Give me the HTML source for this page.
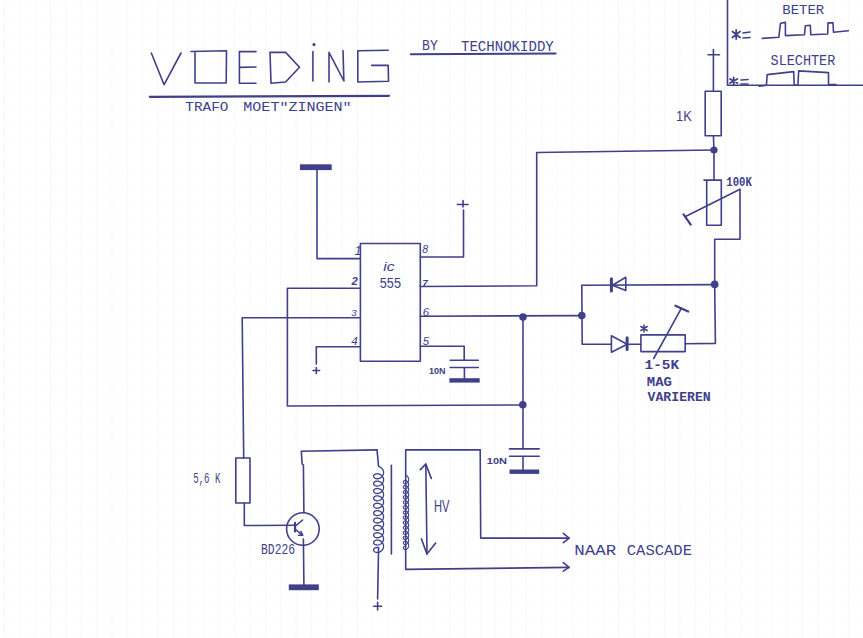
<!DOCTYPE html>
<html><head><meta charset="utf-8"><title>Voeding</title>
<style>
html,body{margin:0;padding:0;background:#fff;width:863px;height:638px;overflow:hidden}
svg{display:block}
text{font-family:"Liberation Sans",sans-serif;fill:#40408a}
</style></head><body>
<svg width="863" height="638" viewBox="0 0 863 638">
<defs>
<pattern id="grid" width="15.35" height="15.35" patternUnits="userSpaceOnUse" x="4" y="3">
<path d="M0.5 0V15.35" stroke="#f7f7f8" stroke-width="1" fill="none"/><path d="M0 0.5H15.35" stroke="#fcfcfc" stroke-width="1" fill="none"/>
</pattern>
</defs>
<rect width="863" height="638" fill="#fff"/>
<rect width="863" height="638" fill="url(#grid)"/>

<g fill="none" stroke="#40408a" stroke-width="1.6" stroke-linecap="round" stroke-linejoin="round">
<!-- TITLE VOEDING -->
<path d="M151.3 53L164.1 84.7L181 53"/>
<path d="M191 51.5L226.5 50.8L226.2 82.9L195 83L195 51.5"/>
<path d="M256 51.6L239.4 51.6L239.4 83.2L256 83.2M239.4 67.4L256 67"/>
<path d="M270 52.4L285.6 52.4L299.5 67.2L285.6 82L271 83.3Z"/>
<path d="M312.9 51.5L312.9 81"/>
<path d="M329 82L329 52.4L343.9 81L343 50.6"/>
<path d="M388.2 50.2L357.8 50.8L357.8 82L388.5 81.2L388.2 65.4L371.7 65.4"/>
<path d="M149.8 96.8L389 95.8" stroke-width="2.2"/>
<path d="M410.8 54.2L555.6 53.6" stroke-width="2"/>

<!-- top right box -->
<path d="M727.5 0L727.5 85.3L863 85.3"/>
<path d="M762.3 38.4L778.8 37.3L780.5 23.2L785.4 22.4L785.4 35.6L804.5 34.8L805.3 25.7L810.3 25.2L810.8 34.8L827.7 34L828 22.9L833 22.9L833.5 32.3L848.4 30.7"/>
<path d="M759 86.2L766.4 85.3L767.2 74.6L793.7 71.6L794.2 85.3L797.9 85.3L798.7 70.9L828.5 72.6L828.5 84.5L836 84.5"/>
<path d="M743 33L750 32M743 38L750 37.5"/>
<path d="M741 80L748 79.5M741 84L748 84"/>

<path d="M736.2 30L736.2 39M732.4 31.5L740 37.5M740 31.5L732.4 37.5" stroke-width="1.8"/>
<path d="M733.7 77.5L733.7 84.5M730 79L737.4 83M737.4 79L730 83" stroke-width="1.8"/>
<!-- 1K resistor -->
<path d="M708 54.7L719.5 54.7M713.4 49.5L713.4 91.2"/>
<rect x="705.2" y="91.2" width="16" height="44.5"/>
<path d="M713.4 135.7L714 150"/>
<!-- wire from dot left to 536.7 then down to pin 7 -->
<path d="M714 150L536.7 152.5L536.7 285.8L420.3 286.5"/>
<!-- 100K pot -->
<path d="M714 150L714 180"/>
<path d="M704 180.1L721.3 180.1L721.3 225.2L706.7 225.2L706.7 180.1"/>
<path d="M685.5 216.5L740 189.2L740 239.3L714.7 239.3L714.7 284.6"/>
<path d="M683.5 214.3L690.7 224.7" stroke-width="2.2"/>

<!-- diode network -->
<path d="M714.7 284.6L581.8 285.2L582.2 344.3L611.4 344.3"/>
<path d="M612.4 285.2L625.8 277.3L625.8 290.5Z"/>
<path d="M611.4 278.7L611.4 291.1" stroke-width="3"/>
<path d="M611.4 335.8L627.1 344.3L611.4 352.2Z"/>
<path d="M627.1 337.8L627.1 349.6" stroke-width="3"/>
<path d="M627.1 344.3L640.9 344.3"/>
<rect x="640.9" y="334.9" width="44.3" height="16.7"/>
<path d="M685.2 343.7L715.4 343.4L714.7 284.6"/>
<path d="M653.7 358.5L681.3 308.3"/>
<path d="M675.4 305.7L688.2 311.6" stroke-width="2.2"/>

<path d="M644 325L644 332M640.9 326.5L647.2 330.5M647.2 326.5L640.9 330.5" stroke-width="1.5"/>
<!-- IC -->
<rect x="360.4" y="243.5" width="59.9" height="117.8"/>
<!-- pin1 ground -->
<path d="M317 170L317 258.6L360.4 258.6"/>
<!-- pin8 -->
<path d="M420.3 257L463.5 257L463.5 210M457.4 204.5L468 204.5M463 200.5L463 207"/>
<!-- pin2 -->
<path d="M360.4 288.2L287.4 288.2L287.4 406L522.8 405"/>
<!-- pin3 -->
<path d="M360.4 317.8L242.2 317.8L243.7 458"/>
<!-- pin4 -->
<path d="M360.4 346.8L316.3 346.8L316.3 364M313 370.5L319.6 370.5M316.3 367.5L316.3 373.5"/>
<!-- pin6 -->
<path d="M420.3 316.2L581.8 315.6"/>
<path d="M523 317L523 448.9"/>
<!-- pin5 cap -->
<path d="M420.3 346.2L464.2 346.2L464.2 360.2"/>
<path d="M450.2 360.2L478.3 360.2M450.2 367.5L478.3 367.5M464.4 367.5L464.4 379"/>
<!-- 10N cap 2 -->
<path d="M509.5 448.9L539.2 448.9M509.5 456.2L539.2 456.2M523 456.2L523 469.5"/>

<!-- 5.6K -->
<rect x="235.8" y="458" width="14.2" height="45"/>
<path d="M244.3 503L244.3 525.5L295 525.3"/>
<!-- transistor -->
<circle cx="302.9" cy="529" r="16.3"/>
<path d="M295 522.8L295 531.5" stroke-width="2.2"/>
<path d="M295 526.5L302.6 520M295 529L302.6 535.3"/>
<path d="M298.5 535.2L302.6 535.3L301 531.5"/>
<path d="M303.9 512.7L303.4 465L302.1 463.8L301.3 451.3L377 449.9"/>
<path d="M303.4 539L303.9 585"/>

<!-- transformer -->
<path d="M377 449.9L378.6 466.5"/>
<path d="M378.6 547.6L377.6 599M373.6 606.2L381.6 606.2M377.6 602.2L377.6 610"/>
<path d="M391.4 465.2L391.4 554"/>
<path d="M480.2 449.9L405.7 449.9L405.7 569.4L569 567.4"/>
<path d="M480.2 449.9L480.7 538.1L569.1 538.1"/>
<path d="M563.3 533.3L569.1 538.1L563.3 542.7"/>
<path d="M563.3 562.6L569.1 567.4L563.3 571.2"/>
<!-- HV arrow -->
<path d="M425.8 464.1L427 554"/>
<path d="M420.3 469.6L425.8 464.1L431.3 478.4"/>
<path d="M421.4 538.7L426.9 554L435.7 543"/>
</g>

<!-- coils -->
<g fill="none" stroke="#40408a" stroke-width="1.3" stroke-linejoin="round">
<path d="M378.60 466.50 L379.89 466.95 L381.10 467.68 L382.14 468.65 L382.93 469.83 L383.43 471.15 L383.60 472.54 L383.43 473.94 L382.93 475.26 L382.14 476.43 L381.10 477.41 L379.89 478.14 L378.60 478.59 L377.31 478.75 L376.10 478.64 L375.06 478.28 L374.27 477.72 L373.77 477.01 L373.60 476.23 L373.77 475.45 L374.27 474.74 L375.06 474.18 L376.10 473.82 L377.31 473.71 L378.60 473.87 L379.89 474.32 L381.10 475.05 L382.14 476.02 L382.93 477.20 L383.43 478.52 L383.60 479.92 L383.43 481.31 L382.93 482.63 L382.14 483.81 L381.10 484.78 L379.89 485.51 L378.60 485.96 L377.31 486.12 L376.10 486.01 L375.06 485.65 L374.27 485.09 L373.77 484.38 L373.60 483.60 L373.77 482.82 L374.27 482.12 L375.06 481.55 L376.10 481.19 L377.31 481.08 L378.60 481.25 L379.89 481.70 L381.10 482.42 L382.14 483.40 L382.93 484.57 L383.43 485.89 L383.60 487.29 L383.43 488.68 L382.93 490.00 L382.14 491.18 L381.10 492.15 L379.89 492.88 L378.60 493.33 L377.31 493.50 L376.10 493.38 L375.06 493.02 L374.27 492.46 L373.77 491.75 L373.60 490.97 L373.77 490.20 L374.27 489.49 L375.06 488.93 L376.10 488.57 L377.31 488.45 L378.60 488.62 L379.89 489.07 L381.10 489.80 L382.14 490.77 L382.93 491.95 L383.43 493.27 L383.60 494.66 L383.43 496.06 L382.93 497.38 L382.14 498.55 L381.10 499.53 L379.89 500.25 L378.60 500.70 L377.31 500.87 L376.10 500.76 L375.06 500.40 L374.27 499.83 L373.77 499.13 L373.60 498.35 L373.77 497.57 L374.27 496.86 L375.06 496.30 L376.10 495.94 L377.31 495.83 L378.60 495.99 L379.89 496.44 L381.10 497.17 L382.14 498.14 L382.93 499.32 L383.43 500.64 L383.60 502.03 L383.43 503.43 L382.93 504.75 L382.14 505.93 L381.10 506.90 L379.89 507.63 L378.60 508.08 L377.31 508.24 L376.10 508.13 L375.06 507.77 L374.27 507.21 L373.77 506.50 L373.60 505.72 L373.77 504.94 L374.27 504.23 L375.06 503.67 L376.10 503.31 L377.31 503.20 L378.60 503.36 L379.89 503.81 L381.10 504.54 L382.14 505.52 L382.93 506.69 L383.43 508.01 L383.60 509.41 L383.43 510.80 L382.93 512.12 L382.14 513.30 L381.10 514.27 L379.89 515.00 L378.60 515.45 L377.31 515.61 L376.10 515.50 L375.06 515.14 L374.27 514.58 L373.77 513.87 L373.60 513.09 L373.77 512.31 L374.27 511.61 L375.06 511.04 L376.10 510.68 L377.31 510.57 L378.60 510.74 L379.89 511.19 L381.10 511.91 L382.14 512.89 L382.93 514.07 L383.43 515.39 L383.60 516.78 L383.43 518.17 L382.93 519.49 L382.14 520.67 L381.10 521.65 L379.89 522.37 L378.60 522.82 L377.31 522.99 L376.10 522.87 L375.06 522.51 L374.27 521.95 L373.77 521.25 L373.60 520.47 L373.77 519.69 L374.27 518.98 L375.06 518.42 L376.10 518.06 L377.31 517.95 L378.60 518.11 L379.89 518.56 L381.10 519.29 L382.14 520.26 L382.93 521.44 L383.43 522.76 L383.60 524.15 L383.43 525.55 L382.93 526.87 L382.14 528.04 L381.10 529.02 L379.89 529.75 L378.60 530.20 L377.31 530.36 L376.10 530.25 L375.06 529.89 L374.27 529.32 L373.77 528.62 L373.60 527.84 L373.77 527.06 L374.27 526.35 L375.06 525.79 L376.10 525.43 L377.31 525.32 L378.60 525.48 L379.89 525.93 L381.10 526.66 L382.14 527.63 L382.93 528.81 L383.43 530.13 L383.60 531.52 L383.43 532.92 L382.93 534.24 L382.14 535.42 L381.10 536.39 L379.89 537.12 L378.60 537.57 L377.31 537.73 L376.10 537.62 L375.06 537.26 L374.27 536.70 L373.77 535.99 L373.60 535.21 L373.77 534.43 L374.27 533.73 L375.06 533.16 L376.10 532.80 L377.31 532.69 L378.60 532.85 L379.89 533.30 L381.10 534.03 L382.14 535.01 L382.93 536.18 L383.43 537.50 L383.60 538.90 L383.43 540.29 L382.93 541.61 L382.14 542.79 L381.10 543.76 L379.89 544.49 L378.60 544.94 L377.31 545.10 L376.10 544.99 L375.06 544.63 L374.27 544.07 L373.77 543.36 L373.60 542.58 L373.77 541.80 L374.27 541.10 L375.06 540.54 L376.10 540.18 L377.31 540.06 L378.60 540.23 L379.89 540.68 L381.10 541.40 L382.14 542.38 L382.93 543.56 L383.43 544.88 L383.60 546.27 L383.43 547.66 L382.93 548.98 L382.14 550.16 L381.10 551.14 L379.89 551.86 L378.60 552.31 L377.31 552.48 L376.10 552.37 L375.06 552.01 L374.27 551.44 L373.77 550.74 L373.60 549.96 L373.77 549.18 L374.27 548.47 L375.06 547.91 L376.10 547.55 L377.31 547.44 L378.60 547.60"/>
</g>
<g fill="none" stroke="#40408a" stroke-width="1.1" stroke-linejoin="round">
<path d="M406.00 475.50 L406.70 475.81 L407.35 476.30 L407.91 476.95 L408.34 477.74 L408.61 478.63 L408.70 479.57 L408.61 480.50 L408.34 481.39 L407.91 482.18 L407.35 482.83 L406.70 483.33 L406.00 483.63 L405.30 483.75 L404.65 483.68 L404.09 483.45 L403.66 483.08 L403.39 482.61 L403.30 482.10 L403.39 481.58 L403.66 481.12 L404.09 480.75 L404.65 480.52 L405.30 480.45 L406.00 480.56 L406.70 480.87 L407.35 481.36 L407.91 482.02 L408.34 482.81 L408.61 483.69 L408.70 484.63 L408.61 485.57 L408.34 486.45 L407.91 487.24 L407.35 487.90 L406.70 488.39 L406.00 488.70 L405.30 488.81 L404.65 488.74 L404.09 488.51 L403.66 488.14 L403.39 487.68 L403.30 487.16 L403.39 486.65 L403.66 486.18 L404.09 485.82 L404.65 485.58 L405.30 485.51 L406.00 485.63 L406.70 485.93 L407.35 486.43 L407.91 487.08 L408.34 487.87 L408.61 488.76 L408.70 489.69 L408.61 490.63 L408.34 491.52 L407.91 492.31 L407.35 492.96 L406.70 493.45 L406.00 493.76 L405.30 493.88 L404.65 493.81 L404.09 493.57 L403.66 493.20 L403.39 492.74 L403.30 492.23 L403.39 491.71 L403.66 491.25 L404.09 490.88 L404.65 490.65 L405.30 490.58 L406.00 490.69 L406.70 491.00 L407.35 491.49 L407.91 492.15 L408.34 492.94 L408.61 493.82 L408.70 494.76 L408.61 495.69 L408.34 496.58 L407.91 497.37 L407.35 498.03 L406.70 498.52 L406.00 498.83 L405.30 498.94 L404.65 498.87 L404.09 498.64 L403.66 498.27 L403.39 497.80 L403.30 497.29 L403.39 496.78 L403.66 496.31 L404.09 495.94 L404.65 495.71 L405.30 495.64 L406.00 495.76 L406.70 496.06 L407.35 496.55 L407.91 497.21 L408.34 498.00 L408.61 498.89 L408.70 499.82 L408.61 500.76 L408.34 501.65 L407.91 502.44 L407.35 503.09 L406.70 503.58 L406.00 503.89 L405.30 504.00 L404.65 503.94 L404.09 503.70 L403.66 503.33 L403.39 502.87 L403.30 502.36 L403.39 501.84 L403.66 501.38 L404.09 501.01 L404.65 500.77 L405.30 500.71 L406.00 500.82 L406.70 501.13 L407.35 501.62 L407.91 502.27 L408.34 503.07 L408.61 503.95 L408.70 504.89 L408.61 505.82 L408.34 506.71 L407.91 507.50 L407.35 508.16 L406.70 508.65 L406.00 508.95 L405.30 509.07 L404.65 509.00 L404.09 508.77 L403.66 508.40 L403.39 507.93 L403.30 507.42 L403.39 506.91 L403.66 506.44 L404.09 506.07 L404.65 505.84 L405.30 505.77 L406.00 505.89 L406.70 506.19 L407.35 506.68 L407.91 507.34 L408.34 508.13 L408.61 509.02 L408.70 509.95 L408.61 510.89 L408.34 511.77 L407.91 512.56 L407.35 513.22 L406.70 513.71 L406.00 514.02 L405.30 514.13 L404.65 514.06 L404.09 513.83 L403.66 513.46 L403.39 513.00 L403.30 512.48 L403.39 511.97 L403.66 511.51 L404.09 511.14 L404.65 510.90 L405.30 510.83 L406.00 510.95 L406.70 511.26 L407.35 511.75 L407.91 512.40 L408.34 513.19 L408.61 514.08 L408.70 515.02 L408.61 515.95 L408.34 516.84 L407.91 517.63 L407.35 518.28 L406.70 518.78 L406.00 519.08 L405.30 519.20 L404.65 519.13 L404.09 518.90 L403.66 518.53 L403.39 518.06 L403.30 517.55 L403.39 517.03 L403.66 516.57 L404.09 516.20 L404.65 515.97 L405.30 515.90 L406.00 516.01 L406.70 516.32 L407.35 516.81 L407.91 517.47 L408.34 518.26 L408.61 519.14 L408.70 520.08 L408.61 521.02 L408.34 521.90 L407.91 522.69 L407.35 523.35 L406.70 523.84 L406.00 524.15 L405.30 524.26 L404.65 524.19 L404.09 523.96 L403.66 523.59 L403.39 523.13 L403.30 522.61 L403.39 522.10 L403.66 521.63 L404.09 521.27 L404.65 521.03 L405.30 520.96 L406.00 521.08 L406.70 521.38 L407.35 521.88 L407.91 522.53 L408.34 523.32 L408.61 524.21 L408.70 525.14 L408.61 526.08 L408.34 526.97 L407.91 527.76 L407.35 528.41 L406.70 528.90 L406.00 529.21 L405.30 529.33 L404.65 529.26 L404.09 529.02 L403.66 528.65 L403.39 528.19 L403.30 527.68 L403.39 527.16 L403.66 526.70 L404.09 526.33 L404.65 526.10 L405.30 526.03 L406.00 526.14 L406.70 526.45 L407.35 526.94 L407.91 527.60 L408.34 528.39 L408.61 529.27 L408.70 530.21 L408.61 531.14 L408.34 532.03 L407.91 532.82 L407.35 533.48 L406.70 533.97 L406.00 534.27 L405.30 534.39 L404.65 534.32 L404.09 534.09 L403.66 533.72 L403.39 533.25 L403.30 532.74 L403.39 532.23 L403.66 531.76 L404.09 531.39 L404.65 531.16 L405.30 531.09 L406.00 531.21 L406.70 531.51 L407.35 532.00 L407.91 532.66 L408.34 533.45 L408.61 534.34 L408.70 535.27 L408.61 536.21 L408.34 537.10 L407.91 537.89 L407.35 538.54 L406.70 539.03 L406.00 539.34 L405.30 539.45 L404.65 539.39 L404.09 539.15 L403.66 538.78 L403.39 538.32 L403.30 537.81 L403.39 537.29 L403.66 536.83 L404.09 536.46 L404.65 536.22 L405.30 536.16 L406.00 536.27 L406.70 536.58 L407.35 537.07 L407.91 537.72 L408.34 538.52 L408.61 539.40 L408.70 540.34 L408.61 541.27 L408.34 542.16 L407.91 542.95 L407.35 543.61 L406.70 544.10 L406.00 544.40 L405.30 544.52 L404.65 544.45 L404.09 544.22 L403.66 543.85 L403.39 543.38 L403.30 542.87 L403.39 542.36 L403.66 541.89 L404.09 541.52 L404.65 541.29 L405.30 541.22 L406.00 541.34 L406.70 541.64 L407.35 542.13 L407.91 542.79 L408.34 543.58 L408.61 544.47 L408.70 545.40 L408.61 546.34 L408.34 547.22 L407.91 548.01 L407.35 548.67 L406.70 549.16 L406.00 549.47 L405.30 549.58 L404.65 549.51 L404.09 549.28 L403.66 548.91 L403.39 548.45 L403.30 547.93 L403.39 547.42 L403.66 546.96 L404.09 546.59 L404.65 546.35 L405.30 546.28 L406.00 546.40"/>
</g>

<!-- filled: dots and ground bars -->
<g fill="#40408a" stroke="none">
<circle cx="314" cy="44.6" r="1.6"/>
<circle cx="714" cy="150" r="3.6"/>
<circle cx="714.7" cy="284.4" r="3.8"/>
<circle cx="581.8" cy="315.6" r="3.8"/>
<circle cx="523" cy="317" r="3.8"/>
<circle cx="522.8" cy="404.7" r="3.8"/>
<rect x="300" y="164.3" width="31.7" height="5.8"/>
<rect x="449.4" y="378.2" width="30.3" height="4.4"/>
<rect x="509.5" y="469.5" width="29.7" height="4.4"/>
<rect x="288.8" y="584.4" width="30" height="5.8"/>
</g>

<!-- TEXT -->
<text x="185.30" y="111.02" font-size="12.66" style="font-family:&quot;Liberation Mono&quot;, monospace;font-weight:normal;font-style:normal" textLength="43.20" lengthAdjust="spacingAndGlyphs">TRAFO</text>
<text x="243.30" y="111.02" font-size="12.59" style="font-family:&quot;Liberation Mono&quot;, monospace;font-weight:normal;font-style:normal" textLength="108.34" lengthAdjust="spacingAndGlyphs">MOET&quot;ZINGEN&quot;</text>
<text x="422.08" y="49.98" font-size="13.81" style="font-family:&quot;Liberation Mono&quot;, monospace;font-weight:normal;font-style:normal" textLength="15.68" lengthAdjust="spacingAndGlyphs">BY</text>
<text x="461.00" y="50.98" font-size="14.84" style="font-family:&quot;Liberation Mono&quot;, monospace;font-weight:normal;font-style:normal" textLength="92.78" lengthAdjust="spacingAndGlyphs">TECHNOKIDDY</text>
<text x="782.30" y="14.24" font-size="13.07" style="font-family:&quot;Liberation Mono&quot;, monospace;font-weight:normal;font-style:normal" textLength="41.94" lengthAdjust="spacingAndGlyphs">BETER</text>
<text x="770.56" y="64.74" font-size="13.81" style="font-family:&quot;Liberation Mono&quot;, monospace;font-weight:normal;font-style:normal" textLength="64.72" lengthAdjust="spacingAndGlyphs">SLECHTER</text>
<text x="676.08" y="121.00" font-size="14.01" style="font-family:&quot;Liberation Sans&quot;, sans-serif;font-weight:normal;font-style:normal" textLength="15.68" lengthAdjust="spacingAndGlyphs">1K</text>
<text x="726.28" y="185.50" font-size="12.97" style="font-family:&quot;Liberation Mono&quot;, monospace;font-weight:bold;font-style:normal" textLength="25.52" lengthAdjust="spacingAndGlyphs">100K</text>
<text x="354.52" y="255.00" font-size="12.50" style="font-family:&quot;Liberation Sans&quot;, sans-serif;font-weight:normal;font-style:italic">1</text>
<text x="422.28" y="252.50" font-size="10.51" style="font-family:&quot;Liberation Sans&quot;, sans-serif;font-weight:normal;font-style:italic">8</text>
<text x="383.26" y="271.02" font-size="13.18" style="font-family:&quot;Liberation Sans&quot;, sans-serif;font-weight:normal;font-style:italic" textLength="11.24" lengthAdjust="spacingAndGlyphs">ic</text>
<text x="379.80" y="288.00" font-size="13.89" style="font-family:&quot;Liberation Sans&quot;, sans-serif;font-weight:normal;font-style:normal" textLength="21.20" lengthAdjust="spacingAndGlyphs">555</text>
<text x="351.52" y="285.36" font-size="11.27" style="font-family:&quot;Liberation Sans&quot;, sans-serif;font-weight:bold;font-style:italic">2</text>
<text x="422.44" y="286.06" font-size="9.42" style="font-family:&quot;Liberation Sans&quot;, sans-serif;font-weight:bold;font-style:italic">7</text>
<text x="351.28" y="315.52" font-size="9.87" style="font-family:&quot;Liberation Sans&quot;, sans-serif;font-weight:normal;font-style:italic">3</text>
<text x="422.80" y="315.52" font-size="11.50" style="font-family:&quot;Liberation Sans&quot;, sans-serif;font-weight:normal;font-style:italic">6</text>
<text x="351.28" y="345.02" font-size="11.64" style="font-family:&quot;Liberation Sans&quot;, sans-serif;font-weight:normal;font-style:italic">4</text>
<text x="422.80" y="344.98" font-size="11.50" style="font-family:&quot;Liberation Sans&quot;, sans-serif;font-weight:normal;font-style:italic">5</text>
<text x="429.02" y="374.02" font-size="8.81" style="font-family:&quot;Liberation Sans&quot;, sans-serif;font-weight:bold;font-style:normal" textLength="16.48" lengthAdjust="spacingAndGlyphs">10N</text>
<text x="486.80" y="464.26" font-size="8.25" style="font-family:&quot;Liberation Sans&quot;, sans-serif;font-weight:bold;font-style:normal" textLength="20.18" lengthAdjust="spacingAndGlyphs">10N</text>
<text x="644.58" y="368.50" font-size="12.89" style="font-family:&quot;Liberation Mono&quot;, monospace;font-weight:bold;font-style:normal" textLength="34.46" lengthAdjust="spacingAndGlyphs">1-5K</text>
<text x="646.82" y="385.76" font-size="13.66" style="font-family:&quot;Liberation Mono&quot;, monospace;font-weight:bold;font-style:normal" textLength="25.18" lengthAdjust="spacingAndGlyphs">MAG</text>
<text x="647.52" y="401.48" font-size="13.66" style="font-family:&quot;Liberation Mono&quot;, monospace;font-weight:bold;font-style:normal" textLength="63.24" lengthAdjust="spacingAndGlyphs">VARIEREN</text>
<text x="193.30" y="482.92" font-size="13.86" style="font-family:&quot;Liberation Mono&quot;, monospace;font-weight:normal;font-style:normal" textLength="26.98" lengthAdjust="spacingAndGlyphs">5,6 K</text>
<text x="261.08" y="554.02" font-size="13.84" style="font-family:&quot;Liberation Mono&quot;, monospace;font-weight:normal;font-style:normal" textLength="33.92" lengthAdjust="spacingAndGlyphs">BD226</text>
<text x="434.04" y="512.26" font-size="17.04" style="font-family:&quot;Liberation Sans&quot;, sans-serif;font-weight:normal;font-style:normal" textLength="15.52" lengthAdjust="spacingAndGlyphs">HV</text>
<text x="574.32" y="554.74" font-size="13.84" style="font-family:&quot;Liberation Mono&quot;, monospace;font-weight:normal;font-style:normal" textLength="41.90" lengthAdjust="spacingAndGlyphs">NAAR</text>
<text x="626.78" y="554.74" font-size="13.84" style="font-family:&quot;Liberation Mono&quot;, monospace;font-weight:normal;font-style:normal" textLength="65.20" lengthAdjust="spacingAndGlyphs">CASCADE</text>
</svg>
</body></html>
